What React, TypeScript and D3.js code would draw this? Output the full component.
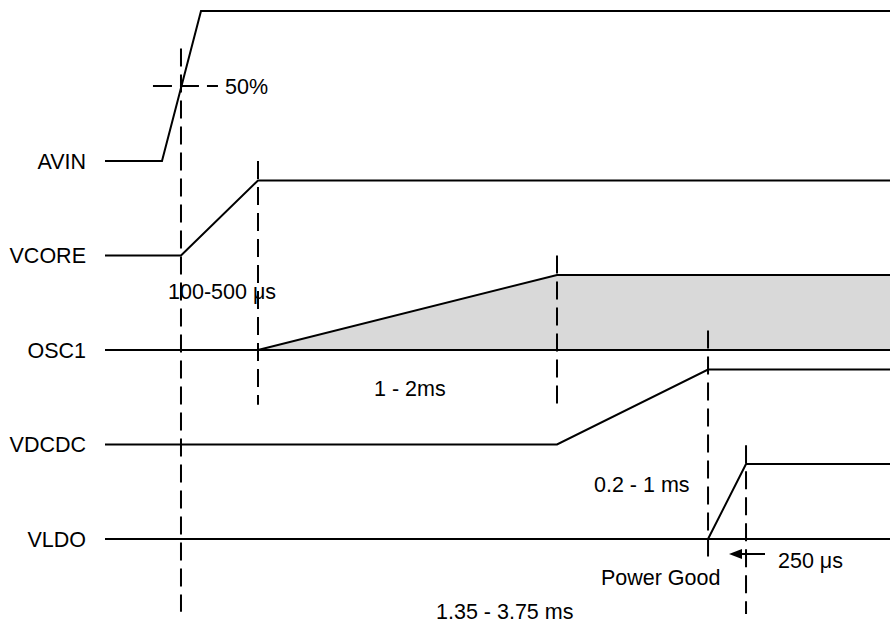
import React from "react";
import * as d3 from "d3";

// Signal names (rows, top to bottom)
const signals = ["AVIN", "VCORE", "OSC1", "VDCDC", "VLDO"];

// Waveforms: [time (0-100 arbitrary units), level]
const avinWave: [number, number][] = [[0, 0], [7.26, 0], [12.23, 2], [100, 2]];
const vcoreWave: [number, number][] = [[0, 0], [9.68, 0], [19.49, 1], [100, 1]];
const osc1Wave: [number, number][] = [[0, 0], [19.49, 0], [57.58, 1], [100, 1]];
const vdcdcWave: [number, number][] = [[0, 0], [57.58, 0], [76.82, 1], [100, 1]];
const vldoWave: [number, number][] = [[0, 0], [76.82, 0], [81.66, 1], [100, 1]];
const waves = [avinWave, vcoreWave, osc1Wave, vdcdcWave, vldoWave];

// Shaded region of OSC1
const osc1Fill: [number, number][] = [[19.49, 1e-9], [57.58, 1], [100, 1]];
const osc1FillStart = 0;

// Vertical dashed guides: time, [row, level] start, [row, level] end
const guideTimes = [9.68, 19.49, 57.58, 76.82, 81.66];
const guideStarts: [string, number][] = [["AVIN", 1.5], ["AVIN", 0], ["VCORE", 0], ["VDCDC", 1.52], ["VLDO", 1.25]];
const guideEnds: [string, number][] = [["VLDO", -0.97], ["OSC1", -0.73], ["VDCDC", 0.5], ["VLDO", -0.24], ["VLDO", -1.0]];

// Horizontal dashed 50% marker
const halfMarker = { row: "AVIN", level: 1, t0: 6.11, t1: 14.39 };

// Annotations: text, left time, row, level (cap-centre)
const annoText = ["50%", "100-500 \u03bcs", "1 - 2ms", "0.2 - 1 ms", "Power Good", "250 \u03bcs", "1.35 - 3.75 ms"];
const annoT = [15.29, 8.03, 34.27, 62.29, 63.18, 85.73, 42.17];
const annoRow = ["AVIN", "VCORE", "OSC1", "VLDO", "VLDO", "VLDO", "VLDO"];
const annoLevel = [1.0, -0.473, -0.507, 0.727, -0.513, -0.287, -0.96];

// Arrow (250 µs)
const arrow = { row: "VLDO", level: -0.2, tFrom: 84.08, tTo: 79.49 };

const W = 890;
const H = 624;
const FS = 21.5;
const FONT = "'Liberation Sans', Arial, Helvetica, sans-serif";

export default function App() {
  const x = d3.scaleLinear().domain([0, 100]).range([105, 890]);
  const row = d3.scalePoint<string>().domain(signals).range([161, 539]);
  const amp = d3.scaleLinear().domain([0, 1]).range([0, 75]);
  const yOf = (r: string, lvl: number) => (row(r) as number) - amp(lvl);

  const capOff = FS * 0.358;

  return (
    <svg
      width={W}
      height={H}
      style={{ position: "absolute", left: 0, top: 0, background: "#fff" }}
      fontFamily={FONT}
      fontSize={FS}
    >
      {/* OSC1 shaded area */}
      {(() => {
        const area = d3
          .area<[number, number]>()
          .x((d) => x(d[0]))
          .y0(() => yOf("OSC1", osc1FillStart))
          .y1((d) => yOf("OSC1", d[1]));
        return <path d={area(osc1Fill) || ""} fill="#d9d9d9" stroke="none" />;
      })()}

      {/* waveforms */}
      {signals.map((s, i) => {
        const line = d3
          .line<[number, number]>()
          .x((d) => x(d[0]))
          .y((d) => yOf(s, d[1]));
        return (
          <g key={s}>
            <path d={line(waves[i]) || ""} fill="none" stroke="#000" strokeWidth={2} strokeLinejoin="miter" />
            {(s === "OSC1" || s === "VLDO") && (
              <line x1={x(0)} x2={x(100)} y1={yOf(s, 0)} y2={yOf(s, 0)} stroke="#000" strokeWidth={2} />
            )}
            <text x={x(-2.42)} y={yOf(s, 0) + capOff} textAnchor="end" fill="#000">
              {s}
            </text>
          </g>
        );
      })}

      {/* vertical dashed guides */}
      {guideTimes.map((t, i) => (
        <line
          key={"g" + i}
          x1={x(t)}
          x2={x(t)}
          y1={yOf(guideStarts[i][0], guideStarts[i][1])}
          y2={yOf(guideEnds[i][0], guideEnds[i][1])}
          stroke="#000"
          strokeWidth={2}
          strokeDasharray="18,8"
        />
      ))}

      {/* 50% horizontal dashed marker */}
      <line
        x1={x(halfMarker.t0)}
        x2={x(halfMarker.t1)}
        y1={yOf(halfMarker.row, halfMarker.level)}
        y2={yOf(halfMarker.row, halfMarker.level)}
        stroke="#000"
        strokeWidth={2}
        strokeDasharray="19,8"
      />

      {/* arrow */}
      {(() => {
        const y = yOf(arrow.row, arrow.level);
        const x0 = x(arrow.tFrom);
        const x1 = x(arrow.tTo);
        return (
          <g>
            <line x1={x0} x2={x1 + 8} y1={y} y2={y} stroke="#000" strokeWidth={2} />
            <path d={`M${x1},${y} L${x1 + 13},${y - 5} L${x1 + 13},${y + 5} Z`} fill="#000" />
          </g>
        );
      })()}

      {/* annotations */}
      {annoText.map((txt, i) => (
        <text key={"a" + i} x={x(annoT[i])} y={yOf(annoRow[i], annoLevel[i]) + capOff} fill="#000">
          {txt}
        </text>
      ))}
    </svg>
  );
}
